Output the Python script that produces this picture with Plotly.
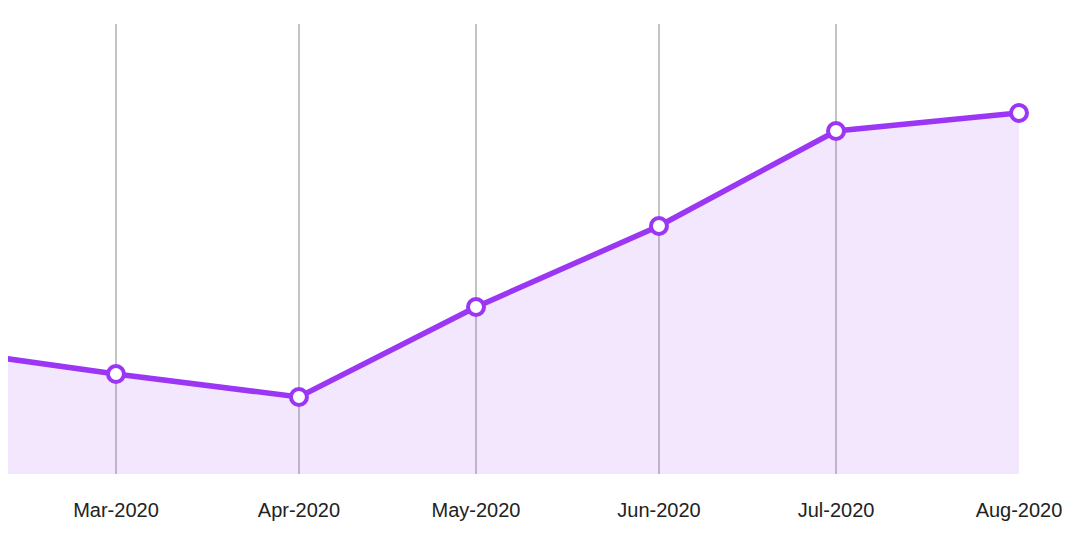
import plotly.graph_objects as go

months = ["2020-02-01", "2020-03-01", "2020-04-01", "2020-05-01",
          "2020-06-01", "2020-07-01", "2020-08-01"]
values = [1240, 1000, 770, 1670, 2480, 3430, 3610]

purple = "#9b36f5"

fig = go.Figure()
fig.add_trace(go.Scatter(
    x=months,
    y=values,
    mode="lines+markers",
    line=dict(color=purple, width=5.5),
    marker=dict(size=16, color="white", line=dict(color=purple, width=4)),
    fill="tozeroy",
    fillcolor="rgba(155,54,245,0.12)",
    cliponaxis=False,
    hoverinfo="x+y",
))

# page has an 8px body margin, so the margins are shifted to compensate
fig.update_layout(
    width=1090,
    height=558,
    margin=dict(l=0, r=79, t=16, b=92),
    paper_bgcolor="white",
    plot_bgcolor="white",
    showlegend=False,
    font=dict(family="Liberation Sans, Arial, sans-serif", size=20, color="#222"),
)
fig.update_xaxes(
    type="date",
    range=["2020-02-11 17:00", "2020-08-01"],
    dtick="M1",
    tick0="2020-01-01",
    tickformat="%b-%Y",
    showgrid=True,
    gridcolor="#c4c4c4",
    gridwidth=1.5,
    zeroline=False,
    showline=False,
    ticks="outside",
    ticklen=18,
    tickcolor="rgba(0,0,0,0)",
)
fig.update_yaxes(
    range=[0, 4500],
    showgrid=False,
    zeroline=False,
    showticklabels=False,
    showline=False,
)

fig.write_html("out.html")
